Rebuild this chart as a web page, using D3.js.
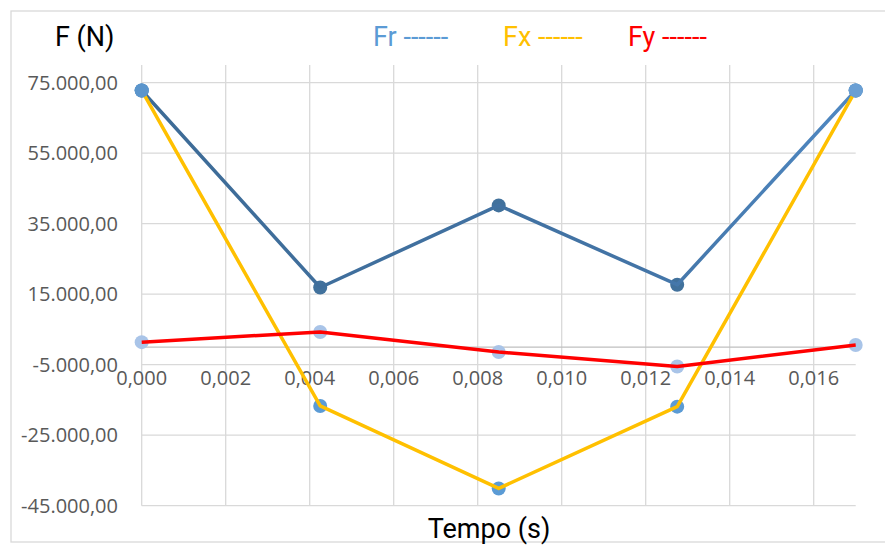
<!DOCTYPE html>
<html>
<head>
<meta charset="utf-8">
<script src="https://cdn.jsdelivr.net/npm/d3@7"></script>
<style>
  body { margin: 0; background: #fff; }
  .tick-label { font-family: "Open Sans", sans-serif; font-size: 20px; fill: #595959; }
  .big { font-family: "Liberation Sans Narrow", "Roboto", sans-serif; font-size: 27px; }
</style>
</head>
<body>
<div id="chart"></div>
<script>
// data
tempo = [0, 0.00425, 0.0085, 0.01275, 0.017]
fr = [72800, 16900, 40200, 17700, 72800]
fx = [72800, -16700, -40100, -16900, 72800]
fy = [1400, 4300, -1400, -5500, 600]

yTicks = [-45000, -25000, -5000, 15000, 35000, 55000, 75000]
xTicks = [0, 0.002, 0.004, 0.006, 0.008, 0.010, 0.012, 0.014, 0.016]

svgWidth = 885
svgHeight = 546

locale = d3.formatLocale({decimal: ',', thousands: '.', grouping: [3], currency: ['', ''], minus: '-'})
yFmt = locale.format(',.2f')
xFmt = locale.format('.3f')

svg = d3.select('#chart')
        .append('svg')
        .attr('width', svgWidth)
        .attr('height', svgHeight)

// chart frame
svg.append('rect')
   .attr('x', 11).attr('y', 11)
   .attr('width', 900).attr('height', 531)
   .attr('fill', '#fff')
   .attr('stroke', '#d9d9d9')
   .attr('stroke-width', 1.3)

xScale = d3.scaleLinear()
           .domain([0, 0.017])
           .range([141.7, 855.7])
yScale = d3.scaleLinear()
           .domain([-45000, 80000])
           .range([505.7, 65.1])

grid = svg.append('g')

// horizontal gridlines
grid.selectAll('.hgrid')
    .data(yTicks)
    .enter()
    .append('line')
    .attr('x1', xScale(0)).attr('x2', xScale(0.017))
    .attr('y1', d => yScale(d)).attr('y2', d => yScale(d))
    .attr('stroke', '#d9d9d9')
    .attr('stroke-width', 1.3)

// vertical gridlines (first one is the y axis)
grid.selectAll('.vgrid')
    .data(xTicks)
    .enter()
    .append('line')
    .attr('x1', d => xScale(d)).attr('x2', d => xScale(d))
    .attr('y1', yScale(80000)).attr('y2', yScale(-45000))
    .attr('stroke', '#d9d9d9')
    .attr('stroke-width', 1.3)

// x axis line at zero
svg.append('line')
   .attr('x1', xScale(0)).attr('x2', xScale(0.017))
   .attr('y1', yScale(0)).attr('y2', yScale(0))
   .attr('stroke', '#bfbfbf')
   .attr('stroke-width', 1.3)

// tick labels
svg.selectAll('.ylab')
   .data(yTicks)
   .enter()
   .append('text')
   .attr('class', 'tick-label')
   .attr('x', 118)
   .attr('y', d => yScale(d) + 7)
   .attr('text-anchor', 'end')
   .text(d => yFmt(d))

svg.selectAll('.xlab')
   .data(xTicks)
   .enter()
   .append('text')
   .attr('class', 'tick-label')
   .attr('x', d => xScale(d))
   .attr('y', yScale(0) + 38)
   .attr('text-anchor', 'middle')
   .text(d => xFmt(d))

// markers first, lines drawn over them
function markers(values, color) {
    svg.append('g')
       .selectAll('circle')
       .data(values)
       .enter()
       .append('circle')
       .attr('cx', (d, i) => xScale(tempo[i]))
       .attr('cy', d => yScale(d))
       .attr('r', 7)
       .attr('fill', color)
}
markers(fy, '#a9c4e8')
markers(fr, '#41719c')
markers(fx, '#5b9bd5')

defs = svg.append('defs')
frGrad = defs.append('linearGradient')
             .attr('id', 'frGrad')
             .attr('gradientUnits', 'userSpaceOnUse')
             .attr('x1', xScale(0)).attr('x2', xScale(0.017))
             .attr('y1', 0).attr('y2', 0)
frGrad.append('stop').attr('offset', '0%').attr('stop-color', '#3d6b96')
frGrad.append('stop').attr('offset', '70%').attr('stop-color', '#4374a6')
frGrad.append('stop').attr('offset', '100%').attr('stop-color', '#4f88c2')

line = d3.line()
         .x((d, i) => xScale(tempo[i]))
         .y(d => yScale(d))

function drawLine(values, color) {
    svg.append('path')
       .datum(values)
       .attr('d', line)
       .attr('fill', 'none')
       .attr('stroke', color)
       .attr('stroke-width', 3.5)
       .attr('stroke-linejoin', 'round')
}
drawLine(fr, 'url(#frGrad)')
drawLine(fx, '#ffc000')
drawLine(fy, '#ff0000')

// the end Fr points sit on top in a lighter blue
svg.append('circle')
   .attr('cx', xScale(tempo[4]))
   .attr('cy', yScale(fr[4]))
   .attr('r', 7)
   .attr('fill', '#6a9fd4')
svg.append('circle')
   .attr('cx', xScale(tempo[0]))
   .attr('cy', yScale(fr[0]))
   .attr('r', 7)
   .attr('fill', '#5b95cc')

// titles and legend
svg.append('text')
   .attr('class', 'big')
   .attr('x', 55).attr('y', 46)
   .attr('fill', '#000')
   .text('F (N)')

legend = [
    {name: 'Fr', color: '#5b9bd5', x: 373},
    {name: 'Fx', color: '#ffc000', x: 503},
    {name: 'Fy', color: '#ff0000', x: 628}
]
legend.forEach(function(l) {
    svg.append('text')
       .attr('class', 'big')
       .attr('x', l.x).attr('y', 46)
       .attr('fill', l.color)
       .text(l.name + ' ------')
})

svg.append('text')
   .attr('class', 'big')
   .attr('x', 489).attr('y', 538)
   .attr('text-anchor', 'middle')
   .attr('fill', '#000')
   .text('Tempo (s)')
</script>
</body>
</html>
